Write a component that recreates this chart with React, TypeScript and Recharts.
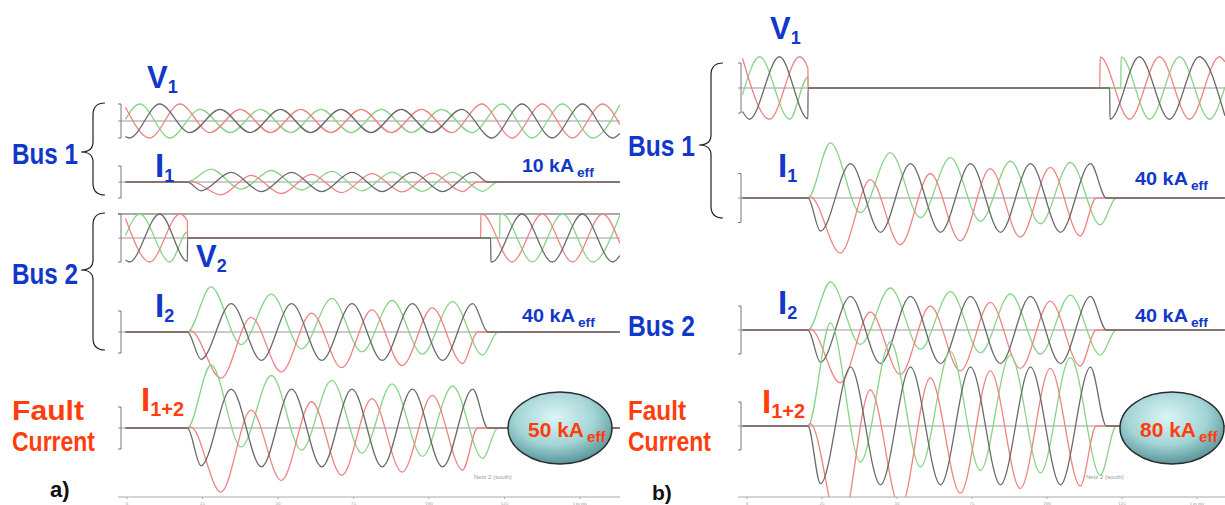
import { LineChart, Line, XAxis, YAxis, ReferenceLine } from "recharts";

// ---- data (per-unit values, 1 = strip bracket) ----
// time axis in ms, 50 Hz -> extrema every half period
const TICKS = [0, 25, 50, 75, 100, 125, 150];
const T_HALF = 10;

type Run = [number, number[]]; // time of first extremum, extremum values
type Phase = { pts: [number, number][]; runs: Run[] };

// panel a) Bus 1 voltage
const V1A_RED: Phase = { pts: [[-0.5, 0.81], [163.2, -0.22]], runs: [[7.5, [-1, 1, -0.68, 0.68, -0.68, 0.68, -0.68, 0.68, -0.68, 0.68, -0.68, 1, -1, 1, -1, 1]]] };
const V1A_GREEN: Phase = { pts: [[-0.5, 0.1], [163.2, 0.95]], runs: [[4.2, [1, -1, 0.68, -0.68, 0.68, -0.68, 0.68, -0.68, 0.68, -0.68, 0.68, -0.68, 1, -1, 1, -1]]] };
const V1A_GRAY: Phase = { pts: [[-0.5, -0.92], [163.2, -0.73]], runs: [[0.8, [-1, 1, -0.68, 0.68, -0.68, 0.68, -0.68, 0.68, -0.68, 0.68, -0.68, 0.68, -1, 1, -1, 1, -1]]] };

// panel a) Bus 1 current
const I1A_RED: Phase = { pts: [[-0.5, 0], [20, 0], [116.1, 0], [163.2, 0]], runs: [[21.1, [0.05, -0.8, 0.42, -0.72, 0.48, -0.66, 0.52, -0.62, 0.56, -0.6]]] };
const I1A_GREEN: Phase = { pts: [[-0.5, 0], [20, 0], [122.8, 0], [163.2, 0]], runs: [[27.8, [0.8, -0.45, 0.72, -0.5, 0.66, -0.55, 0.62, -0.58, 0.6, -0.58]]] };
const I1A_GRAY: Phase = { pts: [[-0.5, 0], [20, 0], [119.5, 0], [163.2, 0]], runs: [[24.5, [-0.55, 0.6, -0.6, 0.6, -0.6, 0.6, -0.6, 0.6, -0.6, 0.6]]] };

// panel a) Bus 2 voltage
const V2A_RED: Phase = { pts: [[-0.5, 0.81], [20, 0.71], [20.05, 0], [117.1, 0], [117.2, 0.97], [163.2, -0.22]], runs: [[7.5, [-1, 1]], [117.5, [1, -1, 1, -1, 1]]] };
const V2A_GREEN: Phase = { pts: [[-0.5, 0.1], [20, 0.25], [20.05, 0], [123.4, 0], [123.5, 0.97], [163.2, 0.95]], runs: [[4.2, [1, -1]], [124.2, [1, -1, 1, -1]]] };
const V2A_GRAY: Phase = { pts: [[-0.5, -0.92], [20, -0.97], [20.05, 0], [120.4, 0], [120.5, -0.99], [163.2, -0.73]], runs: [[0.8, [-1, 1]], [120.8, [-1, 1, -1, 1, -1]]] };

// panel a) Bus 2 current
const I2A_RED: Phase = { pts: [[-0.5, 0], [20, 0], [116.1, 0], [163.2, 0]], runs: [[21.1, [0.05, -2.2, 0.7, -1.9, 0.9, -1.7, 1.05, -1.6, 1.15, -1.5]]] };
const I2A_GREEN: Phase = { pts: [[-0.5, 0], [20, 0], [122.8, 0], [163.2, 0]], runs: [[27.8, [2.15, -0.6, 1.8, -0.8, 1.6, -0.95, 1.5, -1.05, 1.45, -1.1]]] };
const I2A_GRAY: Phase = { pts: [[-0.5, 0], [20, 0], [119.5, 0], [163.2, 0]], runs: [[24.5, [-1.3, 1.35, -1.35, 1.35, -1.35, 1.35, -1.35, 1.35, -1.35, 1.35]]] };

// panel a) fault current
const I12A_RED: Phase = { pts: [[-0.5, 0], [20, 0], [116.1, 0], [163.2, 0]], runs: [[21.1, [0.05, -3.05, 0.85, -2.5, 1.25, -2.25, 1.4, -2.1, 1.55, -2.0]]] };
const I12A_GREEN: Phase = { pts: [[-0.5, 0], [20, 0], [122.8, 0], [163.2, 0]], runs: [[27.8, [3.0, -0.9, 2.5, -1.05, 2.27, -1.2, 2.1, -1.35, 2.0, -1.45]]] };
const I12A_GRAY: Phase = { pts: [[-0.5, 0], [20, 0], [119.5, 0], [163.2, 0]], runs: [[24.5, [-1.8, 1.85, -1.85, 1.85, -1.85, 1.85, -1.85, 1.85, -1.85, 1.85]]] };

// panel b) Bus 1 voltage
const V1B_RED: Phase = { pts: [[-1.5, 1.19], [20.3, 0.8], [20.35, 0], [117.6, 0], [117.7, 1.24], [159.3, 1.05]], runs: [[7.5, [-1.25, 1.25]], [127.5, [-1.25, 1.25, -1.25, 1.25]]] };
const V1B_GREEN: Phase = { pts: [[-1.5, -0.27], [20.3, 0.43], [20.35, 0], [124.6, 0], [124.7, 1.24], [159.3, 0.03]], runs: [[4.2, [1.25, -1.25]], [134.2, [-1.25, 1.25, -1.25]]] };
const V1B_GRAY: Phase = { pts: [[-1.5, -0.94], [20.3, -1.23], [20.35, 0], [120.9, 0], [121, -1.25], [159.3, -1.11]], runs: [[0.8, [-1.25, 1.25]], [130.8, [1.25, -1.25, 1.25]]] };

// panel b) Bus 1 current
const I1B_RED: Phase = { pts: [[-1.5, 0], [20.3, 0], [116.4, 0], [159.3, 0]], runs: [[21.1, [0.05, -2.25, 0.75, -1.9, 1.0, -1.75, 1.2, -1.6, 1.25, -1.55]]] };
const I1B_GREEN: Phase = { pts: [[-1.5, 0], [20.3, 0], [123.1, 0], [159.3, 0]], runs: [[27.8, [2.25, -0.6, 1.85, -0.8, 1.65, -0.95, 1.5, -1.05, 1.45, -1.1]]] };
const I1B_GRAY: Phase = { pts: [[-1.5, 0], [20.3, 0], [119.8, 0], [159.3, 0]], runs: [[24.5, [-1.35, 1.4, -1.4, 1.4, -1.4, 1.4, -1.4, 1.4, -1.4, 1.4]]] };

// panel b) Bus 2 current
const I2B_RED: Phase = { pts: [[-1.5, 0], [20.3, 0], [116.4, 0], [159.3, 0]], runs: [[21.1, [0.05, -2.2, 0.75, -1.85, 1.0, -1.7, 1.15, -1.6, 1.2, -1.5]]] };
const I2B_GREEN: Phase = { pts: [[-1.5, 0], [20.3, 0], [123.1, 0], [159.3, 0]], runs: [[27.8, [2.0, -0.6, 1.75, -0.8, 1.6, -0.95, 1.5, -1.0, 1.45, -1.05]]] };
const I2B_GRAY: Phase = { pts: [[-1.5, 0], [20.3, 0], [119.8, 0], [159.3, 0]], runs: [[24.5, [-1.35, 1.4, -1.4, 1.4, -1.4, 1.4, -1.4, 1.4, -1.4, 1.4]]] };

// panel b) fault current
const I12B_RED: Phase = { pts: [[-1.5, 0], [20.3, 0], [116.4, 0], [159.3, 0]], runs: [[21.1, [0.1, -4.4, 1.5, -3.4, 2.0, -2.8, 2.3, -2.6, 2.4, -2.5]]] };
const I12B_GREEN: Phase = { pts: [[-1.5, 0], [20.3, 0], [123.1, 0], [159.3, 0]], runs: [[27.8, [4.3, -1.5, 3.5, -1.7, 3.1, -1.85, 2.95, -1.95, 2.85, -2.05]]] };
const I12B_GRAY: Phase = { pts: [[-1.5, 0], [20.3, 0], [119.8, 0], [159.3, 0]], runs: [[24.5, [-2.4, 2.45, -2.45, 2.45, -2.45, 2.45, -2.45, 2.45, -2.45, 2.45]]] };

// ---- layout ----
const PLOT_H = 497;
const RED = "#ef8383";
const GREEN = "#88d488";
const GRAY = "#6a6a6a";
const BLUE = "#1238c9";
const ORANGE = "#ff3d0d";
const FONT = "'Liberation Sans Narrow','Liberation Sans',Arial,sans-serif";

type Strip = { id: string; base: number; h: number; red: Phase; green: Phase; gray: Phase; topLine?: boolean };

const STRIPS_A: Strip[] = [
  { id: "v1a", base: 121, h: 17, red: V1A_RED, green: V1A_GREEN, gray: V1A_GRAY },
  { id: "i1a", base: 182, h: 16, red: I1A_RED, green: I1A_GREEN, gray: I1A_GRAY },
  { id: "v2a", base: 238, h: 24, red: V2A_RED, green: V2A_GREEN, gray: V2A_GRAY, topLine: true },
  { id: "i2a", base: 332, h: 21, red: I2A_RED, green: I2A_GREEN, gray: I2A_GRAY },
  { id: "i12a", base: 428, h: 21, red: I12A_RED, green: I12A_GREEN, gray: I12A_GRAY },
];

const STRIPS_B: Strip[] = [
  { id: "v1b", base: 88, h: 25, red: V1B_RED, green: V1B_GREEN, gray: V1B_GRAY },
  { id: "i1b", base: 198, h: 24.5, red: I1B_RED, green: I1B_GREEN, gray: I1B_GRAY },
  { id: "i2b", base: 330, h: 24, red: I2B_RED, green: I2B_GREEN, gray: I2B_GRAY },
  { id: "i12b", base: 426, h: 24, red: I12B_RED, green: I12B_GREEN, gray: I12B_GRAY },
];

const PANEL_A = { left: 118, width: 502, x0: 127, k: 3.02 };
const PANEL_B = { left: 738, width: 487, x0: 747, k: 3.0 };

const build = (p: Phase) => {
  const out = p.pts.map(([t, v]) => ({ t, v }));
  p.runs.forEach(([t0, vals]) => vals.forEach((v, i) => out.push({ t: t0 + i * T_HALF, v })));
  return out.sort((a, b) => a.t - b.t);
};

function Panel({ cfg, strips }: { cfg: typeof PANEL_A; strips: Strip[] }) {
  const xmin = (cfg.left - cfg.x0) / cfg.k;
  const xmax = (cfg.left + cfg.width - cfg.x0) / cfg.k;
  return (
    <div style={{ position: "absolute", left: cfg.left, top: 0 }}>
      <LineChart width={cfg.width} height={505} margin={{ top: 0, right: 0, bottom: 0, left: 0 }}>
        <XAxis
          type="number"
          dataKey="t"
          domain={[xmin, xmax]}
          allowDataOverflow
          ticks={TICKS}
          interval={0}
          height={8}
          tickSize={2}
          stroke="#aaa"
          tick={{ fontSize: 5, fill: "#999" }}
          tickFormatter={(v: number) => (v === 150 ? "t in ms" : String(v))}
        />
        {strips.map((s) => (
          <YAxis key={s.id} yAxisId={s.id} hide type="number" domain={[-(PLOT_H - s.base) / s.h, s.base / s.h]} allowDataOverflow />
        ))}
        {strips.map((s) => (
          <ReferenceLine key={"z" + s.id} yAxisId={s.id} y={0} stroke="#9a9a9a" />
        ))}
        {strips.filter((s) => s.topLine).map((s) => (
          <ReferenceLine key={"t" + s.id} yAxisId={s.id} y={1} stroke="#555" />
        ))}
        {strips.map((s) => [
          <ReferenceLine key={"b1" + s.id} yAxisId={s.id} segment={[{ x: xmin, y: 1 }, { x: xmin + 1, y: 1 }]} stroke="#777" />,
          <ReferenceLine key={"b2" + s.id} yAxisId={s.id} segment={[{ x: xmin + 1, y: 1 }, { x: xmin + 1, y: -1 }]} stroke="#777" />,
          <ReferenceLine key={"b3" + s.id} yAxisId={s.id} segment={[{ x: xmin, y: -1 }, { x: xmin + 1, y: -1 }]} stroke="#777" />,
        ])}
        {strips.map((s) =>
          (
            [
              ["green", s.green, GREEN],
              ["red", s.red, RED],
              ["gray", s.gray, GRAY],
            ] as [string, Phase, string][]
          ).map(([name, ph, color]) => (
            <Line
              key={s.id + name}
              yAxisId={s.id}
              data={build(ph)}
              dataKey="v"
              type="monotone"
              dot={false}
              activeDot={false}
              stroke={color}
              strokeWidth={1.3}
              isAnimationActive={false}
            />
          ))
        )}
      </LineChart>
    </div>
  );
}

function Sym({ x, y, main, sub, color, size = 31, subSize = 18, dx = 0 }: any) {
  return (
    <text x={x} y={y} fill={color} fontFamily={FONT} fontWeight="bold" fontSize={size}>
      {main}
      <tspan dx={dx} dy={size * 0.15} fontSize={subSize}>
        {sub}
      </tspan>
    </text>
  );
}

function Label({ x, y, text, w, color = BLUE, size = 29 }: any) {
  return (
    <text x={x} y={y} fill={color} fontFamily={FONT} fontWeight="bold" fontSize={size} textLength={w} lengthAdjust="spacingAndGlyphs">
      {text}
    </text>
  );
}

function Eff({ x, y, num, color, size = 19, w }: any) {
  return (
    <g>
      <text x={x} y={y} fill={color} fontFamily={FONT} fontWeight="bold" fontSize={size} textLength={w} lengthAdjust="spacingAndGlyphs">
        {num}
      </text>
      <text x={x + w + 3} y={y + 5} fill={color} fontFamily={FONT} fontWeight="bold" fontSize={size * 0.72}>
        eff
      </text>
    </g>
  );
}

const brace = (x: number, y0: number, y1: number, ym: number) =>
  `M${x + 24},${y0} Q${x + 12},${y0} ${x + 12},${y0 + 12} L${x + 12},${ym - 10} Q${x + 12},${ym} ${x},${ym} Q${x + 12},${ym} ${x + 12},${ym + 10} L${x + 12},${y1 - 12} Q${x + 12},${y1} ${x + 24},${y1}`;

export default function App() {
  return (
    <div style={{ position: "absolute", left: 0, top: 0, width: 1225, height: 505, background: "#fff", overflow: "hidden" }}>
      <Panel cfg={PANEL_A} strips={STRIPS_A} />
      <Panel cfg={PANEL_B} strips={STRIPS_B} />
      <svg width={1225} height={505} style={{ position: "absolute", left: 0, top: 0, pointerEvents: "none" }}>
        <defs>
          <radialGradient id="oval" cx="45%" cy="35%" r="70%">
            <stop offset="0%" stopColor="#dcf5f5" />
            <stop offset="55%" stopColor="#a3d4d6" />
            <stop offset="100%" stopColor="#4a8a8e" />
          </radialGradient>
        </defs>

        {/* braces */}
        <path d={brace(81, 103, 195, 152)} fill="none" stroke="#222" strokeWidth={1.2} />
        <path d={brace(81, 213, 350, 270)} fill="none" stroke="#222" strokeWidth={1.2} />
        <path d={brace(699, 63, 218, 145)} fill="none" stroke="#222" strokeWidth={1.2} />

        {/* panel a labels */}
        <Sym x={147} y={88} main="V" sub="1" color={BLUE} />
        <Label x={12} y={164} text="Bus 1" w={66} />
        <Sym x={155} y={177} main="I" sub="1" color={BLUE} size={33} />
        <Eff x={522} y={172} num="10 kA" color={BLUE} w={52} />
        <Sym x={196} y={267} main="V" sub="2" color={BLUE} />
        <Label x={12} y={284} text="Bus 2" w={66} />
        <Sym x={155} y={317} main="I" sub="2" color={BLUE} size={33} />
        <Eff x={522} y={322} num="40 kA" color={BLUE} w={53} />
        <Label x={12} y={420} text="Fault" w={72} color={ORANGE} size={27} />
        <Label x={12} y={451} text="Current" w={83} color={ORANGE} size={27} />
        <Sym x={141} y={411} main="I" sub="1+2" color={ORANGE} size={33} subSize={20} />
        <ellipse cx={560} cy={428} rx={52} ry={36} fill="url(#oval)" stroke="#2b2b2b" strokeWidth={1.5} />
        <Eff x={528} y={437} num="50 kA" color={ORANGE} size={21} w={56} />
        <text x={50} y={497} fontFamily={FONT} fontWeight="bold" fontSize={22} fill="#111">a)</text>
        <text x={474} y={479} fontFamily={FONT} fontSize={6} fill="#999">Netz 2 (south)</text>

        {/* panel b labels */}
        <Sym x={770} y={39} main="V" sub="1" color={BLUE} />
        <Label x={628} y={156} text="Bus 1" w={67} />
        <Sym x={778} y={177} main="I" sub="1" color={BLUE} size={33} />
        <Eff x={1135} y={185} num="40 kA" color={BLUE} w={53} />
        <Sym x={778} y={314} main="I" sub="2" color={BLUE} size={33} />
        <Eff x={1135} y={322} num="40 kA" color={BLUE} w={53} />
        <Label x={628} y={336} text="Bus 2" w={67} />
        <Label x={628} y={420} text="Fault" w={58} color={ORANGE} size={27} />
        <Label x={628} y={451} text="Current" w={83} color={ORANGE} size={27} />
        <Sym x={762} y={413} main="I" sub="1+2" color={ORANGE} size={33} subSize={20} />
        <ellipse cx={1172} cy={428} rx={52} ry={36} fill="url(#oval)" stroke="#2b2b2b" strokeWidth={1.5} />
        <Eff x={1140} y={437} num="80 kA" color={ORANGE} size={21} w={56} />
        <text x={652} y={500} fontFamily={FONT} fontWeight="bold" fontSize={21} fill="#111">b)</text>
        <text x={1086} y={479} fontFamily={FONT} fontSize={6} fill="#999">Netz 2 (south)</text>
      </svg>
    </div>
  );
}
